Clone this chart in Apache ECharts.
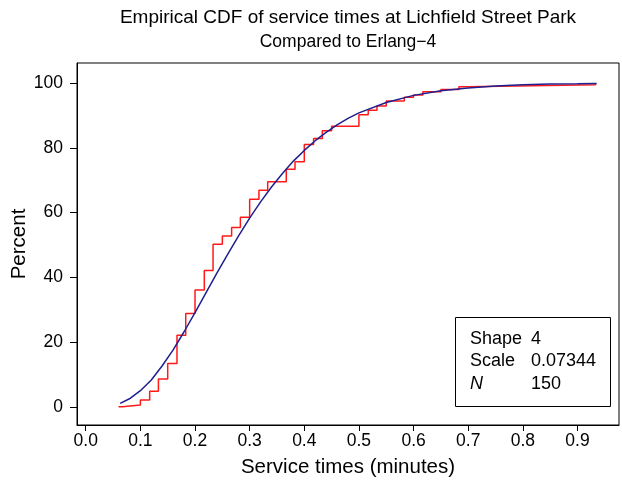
<!DOCTYPE html>
<html>
<head>
<meta charset="utf-8">
<script src="https://cdn.jsdelivr.net/npm/echarts@6/dist/echarts.min.js"></script>
<style>
html,body{margin:0;padding:0;background:#fff;}
#chart{width:622px;height:489px;}
</style>
</head>
<body>
<div id="chart"></div>
<script>
// ---- data ----
const titleText = 'Empirical CDF of service times at Lichfield Street Park';
const subtitleText = 'Compared to Erlang\u22124';
const xAxisTitle = 'Service times (minutes)';
const yAxisTitle = 'Percent';
const xTickValues = [0, 0.1, 0.2, 0.3, 0.4, 0.5, 0.6, 0.7, 0.8, 0.9];
const yTickValues = [0, 20, 40, 60, 80, 100];

// empirical CDF (red step line): service time (minutes) and cumulative percent
const ecdfTimes = [0.060, 0.067, 0.100, 0.117, 0.133, 0.150, 0.167, 0.183, 0.200, 0.217,
  0.233, 0.250, 0.267, 0.283, 0.300, 0.317, 0.333, 0.367, 0.383, 0.400,
  0.417, 0.433, 0.450, 0.500, 0.517, 0.533, 0.550, 0.583, 0.600, 0.617,
  0.650, 0.683, 0.700, 0.933];
const ecdfPercent = [0, 0.6, 2.1, 4.8, 8.6, 13.4, 22.1, 28.8, 36.1, 42.1,
  50.2, 52.8, 55.4, 58.6, 64.1, 66.9, 69.5, 73.4, 75.7, 81.0,
  82.9, 85.3, 86.7, 90.2, 91.6, 92.9, 94.5, 95.6, 96.3, 97.3,
  98.0, 98.9, 99.5, 100];

// fitted Erlang-4 curve (blue line)
const fitTimes = [0.063, 0.08, 0.10, 0.12, 0.14, 0.16, 0.18, 0.20, 0.22, 0.24,
  0.26, 0.28, 0.30, 0.32, 0.34, 0.36, 0.38, 0.40, 0.42, 0.44,
  0.46, 0.48, 0.50, 0.55, 0.60, 0.65, 0.70, 0.75, 0.80, 0.85, 0.90, 0.935];
const fitPercent = [1.1, 2.5, 5.0, 8.3, 12.7, 17.6, 23.2, 29.1, 35.2, 41.3,
  47.2, 52.9, 58.3, 63.3, 67.9, 72.1, 75.9, 79.2, 82.2, 84.8,
  87.1, 89.1, 90.8, 94.0, 96.2, 97.6, 98.5, 99.1, 99.5, 99.7, 99.8, 99.9];

// inset box
const insetLabels = ['Shape', 'Scale', 'N'];
const insetValues = ['4', '0.07344', '150'];

// ---- chart ----
const FONT = '"Liberation Sans", Arial, Helvetica, sans-serif';
const chart = echarts.init(document.getElementById('chart'), null, {renderer: 'canvas'});

const ecdfData = ecdfTimes.map((t, i) => [t, ecdfPercent[i]]);
const fitData = fitTimes.map((t, i) => [t, fitPercent[i]]);

const G = {left: 77, top: 63, width: 542, height: 362};

function txt(str, x, y, size, align, italic) {
  return {type: 'text', silent: true, z: 11, x: x, y: y,
    style: {text: str, align: align, verticalAlign: 'middle',
            font: (italic ? 'italic ' : '') + size + 'px ' + FONT, fill: '#000'}};
}

const graphics = [
  txt(titleText, 348, 18, 19, 'center', false),
  txt(subtitleText, 348, 42, 17.5, 'center', false),
  {type: 'rect', silent: true, z: 10, shape: {x: 455.5, y: 317.5, width: 155, height: 89},
   style: {fill: '#fff', stroke: '#000', lineWidth: 1}}
];
const rowY = [339, 361.5, 384];
insetLabels.forEach((lab, i) => {
  graphics.push(txt(lab, 470, rowY[i], 18, 'left', i === 2));
  graphics.push(txt(insetValues[i], 531, rowY[i], 18, 'left', false));
});

chart.setOption({
  animation: false,
  backgroundColor: '#fff',
  grid: {left: G.left, top: G.top, width: G.width, height: G.height,
         containLabel: false, outerBoundsMode: 'none',
         show: true, borderColor: '#000', borderWidth: 1, backgroundColor: 'transparent'},
  xAxis: {
    type: 'value', min: -0.016, max: 0.976,
    name: xAxisTitle, nameLocation: 'middle', nameGap: 32, nameMoveOverlap: false,
    nameTextStyle: {fontFamily: FONT, fontSize: 20.5, color: '#000'},
    axisLine: {show: true, onZero: false, lineStyle: {color: '#000', width: 1}},
    axisTick: {show: true, inside: false, length: 6, customValues: xTickValues,
               lineStyle: {color: '#000', width: 1}},
    axisLabel: {show: true, customValues: xTickValues, margin: 7,
                fontFamily: FONT, fontSize: 17.5, color: '#000',
                formatter: v => v.toFixed(1)},
    splitLine: {show: false}
  },
  yAxis: {
    type: 'value', min: -5.6, max: 106.2,
    name: yAxisTitle, nameLocation: 'middle', nameGap: 47, nameMoveOverlap: false,
    nameTextStyle: {fontFamily: FONT, fontSize: 20.5, color: '#000'},
    axisLine: {show: true, onZero: false, lineStyle: {color: '#000', width: 1}},
    axisTick: {show: true, inside: false, length: 7, customValues: yTickValues,
               lineStyle: {color: '#000', width: 1}},
    axisLabel: {show: true, customValues: yTickValues, margin: 14,
                fontFamily: FONT, fontSize: 17.5, color: '#000'},
    splitLine: {show: false}
  },
  series: [
    {type: 'line', name: 'Empirical', data: ecdfData, step: 'end', symbol: 'none',
     lineStyle: {color: '#ff1a1a', width: 1.5}, z: 2},
    {type: 'line', name: 'Erlang-4', data: fitData, smooth: false, symbol: 'none',
     lineStyle: {color: '#1f1f8f', width: 1.5}, z: 3}
  ],
  graphic: graphics
});
</script>
</body>
</html>
